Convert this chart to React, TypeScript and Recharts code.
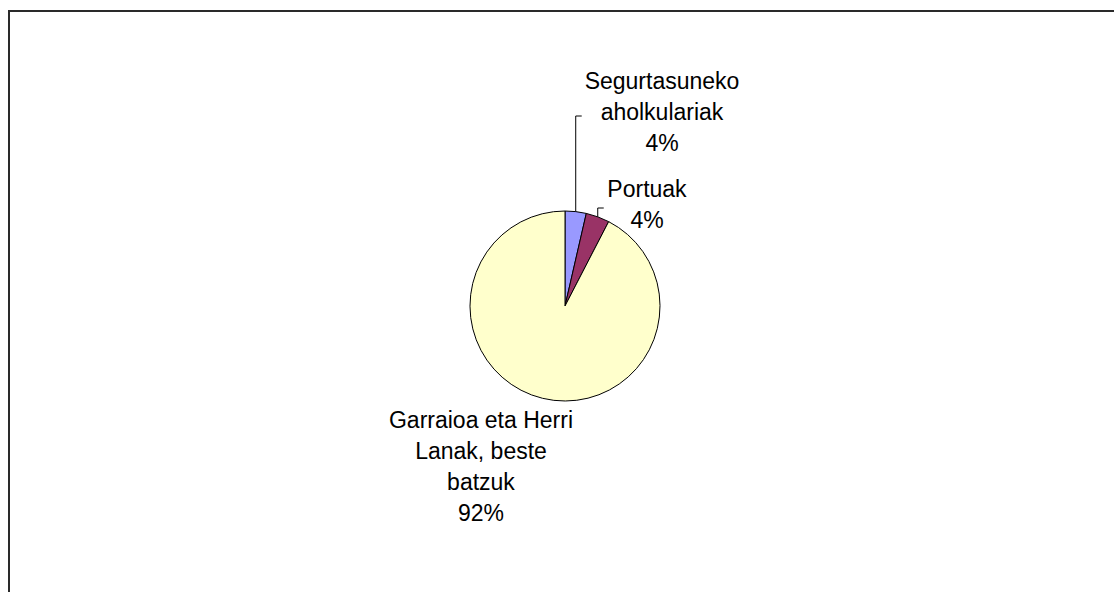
import React from "react";
import { PieChart, Pie, Cell } from "recharts";

// Data (shares, in %)
const categories = [
  "Segurtasuneko aholkulariak",
  "Portuak",
  "Garraioa eta Herri Lanak, beste batzuk"
];
const shares = [3.6, 4.0, 92.4];
const colors = ["#9999FF", "#993366", "#FFFFCC"];

// label placement relative to the pie centre (Excel-style manual labels)
const labelPos = [
  { dx: 97, dy: -217, leader: -190 },
  { dx: 82, dy: -109, leader: -98 },
  { dx: -84, dy: 122, leader: null }
];

const FONT = '"Liberation Sans", Arial, sans-serif';
const FONT_SIZE = 23;
const LINE_H = 31;
const WRAP = 18;

function wrap(text: string, max: number) {
  const words = text.split(" ");
  const lines: string[] = [];
  let cur = "";
  for (const w of words) {
    const next = cur ? cur + " " + w : w;
    if (next.length > max && cur) {
      lines.push(cur);
      cur = w;
    } else {
      cur = next;
    }
  }
  if (cur) lines.push(cur);
  return lines;
}

const data = categories.map((name, i) => ({ name, value: shares[i] }));

const RAD = Math.PI / 180;

function renderLabel(props: any) {
  const { cx, cy, midAngle, outerRadius, index, percent, name } = props;
  const pos = labelPos[index];
  const lines = [...wrap(name, WRAP), `${Math.round(percent * 100)}%`];
  const ex = cx + outerRadius * Math.cos(-midAngle * RAD);
  const ey = cy + outerRadius * Math.sin(-midAngle * RAD);
  const tx = cx + pos.dx;
  const ty = cy + pos.dy;
  return (
    <g key={`lbl-${index}`}>
      {pos.leader !== null && (
        <polyline
          points={`${ex},${ey} ${ex},${cy + pos.leader} ${ex + 6},${cy + pos.leader}`}
          fill="none"
          stroke="#000"
          strokeWidth={1}
        />
      )}
      <text
        x={tx}
        y={ty}
        textAnchor="middle"
        fontFamily={FONT}
        fontSize={FONT_SIZE}
        fill="#000"
      >
        {lines.map((l, i) => (
          <tspan key={i} x={tx} y={ty + i * LINE_H}>
            {l}
          </tspan>
        ))}
      </text>
    </g>
  );
}

export default function App() {
  return (
    <div
      style={{
        position: "absolute",
        left: 0,
        top: 0,
        width: 1114,
        height: 592,
        overflow: "hidden",
        background: "#fff"
      }}
    >
      <div
        style={{
          position: "absolute",
          left: 8,
          top: 10,
          width: 1106,
          height: 582,
          boxSizing: "border-box",
          borderTop: "2px solid #2a2a2a",
          borderLeft: "2px solid #2a2a2a"
        }}
      />
      <div style={{ position: "absolute", left: 0, top: 0 }}>
        <PieChart
          width={1114}
          height={592}
          margin={{ top: 0, right: 0, bottom: 0, left: 0 }}
        >
          <Pie
            data={data}
            dataKey="value"
            nameKey="name"
            cx={565}
            cy={306}
            outerRadius={95}
            startAngle={90}
            endAngle={-270}
            stroke="#000"
            strokeWidth={1}
            label={renderLabel}
            labelLine={false}
            isAnimationActive={false}
          >
            {data.map((d, i) => (
              <Cell key={d.name} fill={colors[i]} />
            ))}
          </Pie>
        </PieChart>
      </div>
    </div>
  );
}
